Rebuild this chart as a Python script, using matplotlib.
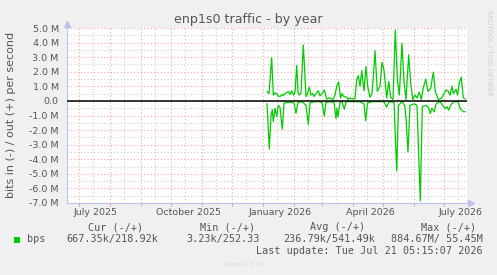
import numpy as np
import matplotlib
matplotlib.use("Agg")
import matplotlib.pyplot as plt
from matplotlib.patches import Rectangle

# days are counted from 2026-01-01, values in Mbit/s
out_days = [4.3, 6, 8.7, 10.3, 12, 13.7, 15, 17, 19, 20.3, 22, 25.3, 27, 28.7, 30.5, 32, 33.7, 35,
            36.3, 38, 40.3, 43, 44.5, 46.3, 48, 49.7, 51, 53, 55.3, 57, 59, 61.3, 63.7, 66, 68,
            70, 72, 73.7, 75.7, 77.5, 79, 81, 83.7, 85, 87, 89, 92, 93.7, 95.3, 97, 98.7, 101,
            103, 104.7, 107, 109, 110.5, 112, 114.3, 117, 119, 121, 123.7, 125.7, 127.7, 130,
            132.3, 134.3, 136.3, 139, 141, 143, 145.7, 147.7, 149.7, 152, 154, 156.3, 158.3,
            160.3, 162.7, 165, 167.7, 170.3, 172.3, 175.3, 178.7, 181, 183, 185.3, 187, 189,
            190.3, 193, 194.5, 196.3, 198.3, 200.3, 202]
out_vals = [0.64, 0.5, 2.97, 0.4, 0.55, 0.5, 0.35, 0.3, 0.45, 0.35, 0.5, 0.65, 0.45, 0.7, 0.4,
            0.6, 2.43, 0.6, 0.4, 0.55, 3.84, 0.3, 0.5, 0.94, 0.4, 0.5, 0.3, 0.5, 0.7, 0.35, 0.5,
            0.75, 0.12, 0.2, 0.15, 0.1, 0.4, 1.0, 1.3, 0.2, 0.5, 0.3, 0.25, 0.1, 0.2, 0.15, 0.15,
            1.44, 1.72, 1.0, 2.08, 0.7, 2.36, 1.0, 0.25, 0.5, 1.8, 3.45, 0.65, 1.0, 2.65, 2.13,
            0.2, 1.33, 0.25, 0.1, 4.87, 1.55, 0.4, 3.96, 1.33, 0.1, 3.16, 1.2, 0.1, 0.4, 0.2,
            0.6, 0.1, 0.9, 1.49, 0.65, 0.87, 1.97, 0.65, 0.1, 0.2, 0.5, 0.76, 0.65, 0.4, 1.0,
            0.5, 0.8, 0.4, 1.26, 1.62, 0.2, 0.15]

in_days = [4, 6.3, 8, 9.3, 10.3, 12, 13.7, 15.3, 17, 19.3, 21, 25, 28, 31, 33, 35, 39, 43,
           45.3, 47, 51, 55, 59, 61.3, 63, 67, 71, 73, 74, 75, 77, 79, 81.3, 83, 87, 92, 97,
           101, 102.7, 104.5, 109, 115, 121, 123.7, 126, 131, 133.7, 135.5, 139, 141.7, 143,
           145, 147, 151, 154, 157.3, 159.3, 163, 165.7, 167.3, 169, 171.3, 173, 177, 180.7,
           182.3, 184, 185.7, 188, 191, 195, 197.3, 199, 200.7, 202]
in_vals = [0.2, 3.3, 1.0, 0.6, 1.42, 0.5, 1.07, 0.3, 0.45, 1.94, 0.15, 0.1, 0.1, 0.15, 0.85,
           0.1, 0.05, 0.3, 1.6, 0.15, 0.05, 0.05, 0.1, 1.05, 0.1, 0.05, 0.1, 1.2, 0.5, 1.1, 0.1,
           0.05, 0.57, 0.05, 0.05, 0.05, 0.05, 0.2, 1.37, 0.15, 0.05, 0.05, 0.05, 0.43, 0.05,
           0.1, 4.8, 0.3, 0.05, 0.3, 1.2, 3.5, 0.3, 0.2, 0.3, 6.86, 0.4, 0.3, 0.5, 0.87, 0.5,
           0.75, 0.2, 0.05, 0.4, 0.53, 0.4, 0.64, 0.25, 0.05, 0.05, 0.53, 0.65, 0.75, 0.73]

y_ticks = [5, 4, 3, 2, 1, 0, -1, -2, -3, -4, -5, -6, -7]
y_labels = ['5.0 M', '4.0 M', '3.0 M', '2.0 M', '1.0 M', '0.0', '-1.0 M', '-2.0 M',
            '-3.0 M', '-4.0 M', '-5.0 M', '-6.0 M', '-7.0 M']
x_label_months = ['2025-07', '2025-10', '2026-01', '2026-04', '2026-07']
x_labels = ['July 2025', 'October 2025', 'January 2026', 'April 2026', 'July 2026']

legend_heads = ['Cur (-/+)', 'Min (-/+)', 'Avg (-/+)', 'Max (-/+)']
legend_vals = ['667.35k/218.92k', '3.23k/252.33', '236.79k/541.49k', '884.67M/ 55.45M']

W, H = 497, 275
text_col = '#555555'
green = '#00CC00'
axis_col = '#C0C0F0'

fig = plt.figure(figsize=(W / 100, H / 100), dpi=100, facecolor='#F0F0F0')
ax = fig.add_axes([67 / W, (H - 203) / H, 400 / W, 175 / H])
ax.set_facecolor('white')

origin = np.datetime64('2026-01-01')
months = np.arange(np.datetime64('2025-07'), np.datetime64('2026-08'), dtype='datetime64[M]')
month_starts = (months.astype('datetime64[D]') - origin).astype(int)
mid_months = month_starts + 14

ax.set_xlim(-196, 204)
ax.set_ylim(-7, 5)

ax.plot(out_days, out_vals, color=green, lw=0.9, zorder=3)
ax.plot(in_days, [-v for v in in_vals], color=green, lw=0.9, zorder=3)
ax.axhline(0, color='black', lw=1.1, zorder=4)

# grid
ax.set_xticks(month_starts)
ax.set_xticks(mid_months, minor=True)
ax.set_yticks(y_ticks)
ax.set_yticks(np.arange(-6.5, 5, 1.0), minor=True)
ax.grid(which='major', color='#F0A8A8', linestyle=(0, (1, 2)), lw=0.8, zorder=1)
ax.grid(which='minor', color='#CCCCCC', linestyle=(0, (1, 2)), lw=0.8, zorder=0)
ax.set_axisbelow(True)

ax.set_xticklabels([''] * len(month_starts))
ax.set_yticklabels(y_labels, fontsize=6.8, color=text_col)
ax.tick_params(axis='y', which='both', length=0, pad=6)
ax.tick_params(axis='x', which='major', length=2, color='#F0A0A0', width=0.8)
ax.tick_params(axis='x', which='minor', length=0)

lab_pos = (np.array(x_label_months, dtype='datetime64[M]').astype('datetime64[D]') - origin).astype(int) + 17
for p, s in zip(lab_pos, x_labels):
    ax.text(p, -0.028, s, transform=ax.get_xaxis_transform(), ha='center', va='top',
            fontsize=6.8, color=text_col)

for side in ['top', 'right']:
    ax.spines[side].set_visible(False)
for side in ['left', 'bottom']:
    ax.spines[side].set_color(axis_col)
    ax.spines[side].set_linewidth(0.8)
ax.plot([0], [1.025], marker='^', ms=4, color=axis_col, transform=ax.transAxes, clip_on=False)
ax.plot([1.01], [0], marker='>', ms=4, color=axis_col, transform=ax.transAxes, clip_on=False)

fig.text(248 / W, 1 - 19 / H, 'enp1s0 traffic - by year', ha='center', va='center',
         fontsize=9.1, color=text_col)
fig.text(11 / W, 1 - 115 / H, 'bits in (-) / out (+) per second', rotation=90,
         ha='center', va='center', fontsize=8, color=text_col)
fig.text(489 / W, 1 - 53 / H, 'RRDTOOL / TOBI OETIKER', rotation=-90, ha='center',
         va='center', fontsize=4.9, color='#D0D0D0')

# legend block
mono = 'DejaVu Sans Mono'
head_x = [116, 228, 338, 449]
val_x = [66.7, 186.7, 282.7, 391]
for hx, s in zip(head_x, legend_heads):
    fig.text(hx / W, 1 - 227 / H, s, ha='center', va='center', family=mono,
             fontsize=7.3, color=text_col)
fig.patches.append(Rectangle((14 / W, 1 - 243 / H), 6 / W, 6 / H, transform=fig.transFigure,
                             facecolor=green, edgecolor='none'))
fig.text(26.7 / W, 1 - 239 / H, 'bps', ha='left', va='center', family=mono,
         fontsize=7.3, color=text_col)
for vx, s in zip(val_x, legend_vals):
    fig.text(vx / W, 1 - 239 / H, s, ha='left', va='center', family=mono,
             fontsize=7.3, color=text_col)
fig.text(482.3 / W, 1 - 251 / H, 'Last update: Tue Jul 21 05:15:07 2026', ha='right',
         va='center', family=mono, fontsize=7.3, color=text_col)
fig.text(243.7 / W, 1 - 264 / H, 'Munin 2.0.76', ha='center', va='center',
         fontsize=4.3, color='#D8D8D8')

fig.savefig('out.png', dpi=100, facecolor=fig.get_facecolor())
